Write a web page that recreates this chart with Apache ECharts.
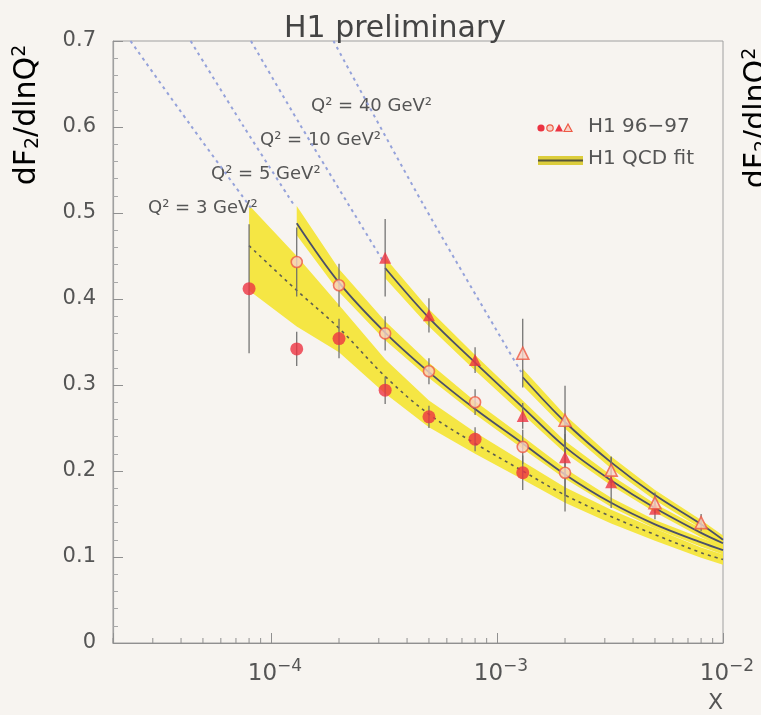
<!DOCTYPE html>
<html><head><meta charset="utf-8">
<script src="https://cdn.jsdelivr.net/npm/echarts@6/dist/echarts.min.js"></script>
<style>html,body{margin:0;padding:0;background:#f7f4f0;} #c{width:761px;height:715px;}</style>
</head><body><div id="c"></div>
<script>
// ---- data ----
// H1 96-97 measurements, dF2/dlnQ2 vs x
const q3X  = [8e-5,1.3e-4,2e-4,3.2e-4,5e-4,8e-4,1.3e-3];
const q3Y  = [0.412,0.342,0.354,0.294,0.263,0.237,0.198];
const q3E  = [0.075,0.02,0.023,0.016,0.013,0.014,0.02];
const q5X  = [1.3e-4,2e-4,3.2e-4,5e-4,8e-4,1.3e-3,2e-3];
const q5Y  = [0.443,0.416,0.360,0.316,0.280,0.228,0.198];
const q5E  = [0.04,0.025,0.02,0.015,0.015,0.02,0.045];
const q10X = [3.2e-4,5e-4,8e-4,1.3e-3,2e-3,3.2e-3,5e-3];
const q10Y = [0.448,0.381,0.329,0.264,0.216,0.187,0.156];
const q10E = [0.045,0.02,0.015,0.015,0.045,0.03,0.012];
const q40X = [1.3e-3,2e-3,3.2e-3,5e-3,8e-3];
const q40Y = [0.337,0.259,0.201,0.163,0.140];
const q40E = [0.04,0.04,0.015,0.012,0.01];

// H1 QCD fit: central value and error band
const f3X  = [8e-5,1.3e-4,2e-4,3.2e-4,5e-4,8e-4,1.3e-3,2e-3,3.2e-3,5e-3,8e-3,1e-2];
const f3Y  = [0.462,0.410,0.366,0.310,0.266,0.232,0.200,0.172,0.147,0.126,0.105,0.097];
const f3Up = [0.509,0.450,0.393,0.330,0.282,0.245,0.211,0.181,0.155,0.133,0.111,0.103];
const f3Lo = [0.410,0.368,0.338,0.290,0.251,0.220,0.190,0.163,0.139,0.119,0.099,0.091];
const f5X  = [1.3e-4,2e-4,3.2e-4,5e-4,8e-4,1.3e-3,2e-3,3.2e-3,5e-3,8e-3,1e-2];
const f5Y  = [0.488,0.419,0.361,0.315,0.272,0.232,0.196,0.163,0.138,0.117,0.108];
const f5Up = [0.508,0.435,0.374,0.326,0.281,0.240,0.203,0.169,0.143,0.122,0.113];
const f5Lo = [0.474,0.408,0.352,0.308,0.266,0.226,0.191,0.158,0.133,0.112,0.103];
const f10X = [3.2e-4,5e-4,8e-4,1.3e-3,2e-3,3.2e-3,5e-3,8e-3,1e-2];
const f10Y = [0.436,0.378,0.326,0.274,0.228,0.189,0.157,0.128,0.116];
const f10Up= [0.448,0.388,0.335,0.282,0.235,0.195,0.162,0.133,0.121];
const f10Lo= [0.424,0.368,0.317,0.266,0.221,0.183,0.152,0.123,0.111];
const f40X = [1.3e-3,2e-3,3.2e-3,5e-3,8e-3,1e-2];
const f40Y = [0.309,0.257,0.210,0.172,0.138,0.120];
const f40Up= [0.319,0.265,0.217,0.178,0.143,0.125];
const f40Lo= [0.299,0.249,0.203,0.166,0.133,0.115];

// blue dotted extrapolation lines (x, y)
const ext3  = [[2.39e-5,0.70],[4.41e-5,0.602],[8.15e-5,0.506]];
const ext5  = [[4.41e-5,0.70],[7.51e-5,0.602],[1.28e-4,0.507]];
const ext10 = [[8.15e-5,0.70],[1.35e-4,0.602],[3.15e-4,0.443]];
const ext40 = [[1.89e-4,0.70],[4.74e-4,0.509],[1.28e-3,0.315]];

const xMinorTicks = [2e-5,3e-5,4e-5,5e-5,6e-5,7e-5,8e-5,9e-5,2e-4,3e-4,4e-4,5e-4,6e-4,7e-4,8e-4,9e-4,2e-3,3e-3,4e-3,5e-3,6e-3,7e-3,8e-3,9e-3];
const q2Labels = ['Q² = 3 GeV²','Q² = 5 GeV²','Q² = 10 GeV²','Q² = 40 GeV²'];

// ---- helpers ----
const FONT = 'DejaVu Sans';
const RED = '#ec3342';
const pairs = (xs, ys) => xs.map((x,i)=>[x, ys[i]]);
function band(xs, up, lo){
  return {type:'custom', z:1, silent:true, clip:true, data:[[xs[0], up[0]]],
    renderItem:(p, api)=>{
      const pts=[];
      for(let i=0;i<xs.length;i++) pts.push(api.coord([xs[i],up[i]]));
      for(let i=xs.length-1;i>=0;i--) pts.push(api.coord([xs[i],lo[i]]));
      return {type:'polygon', shape:{points:pts}, style:{fill:'#f4e53a', opacity:0.95}};
    }};
}
function fitLine(xs, ys, dashed){
  return {type:'line', z:3, data:pairs(xs,ys), smooth:0.35, showSymbol:false, silent:true,
    lineStyle:{color: dashed?'#5e5e50':'#4a4f6a', width: dashed?1.6:1.8, type: dashed?[3,4]:'solid'}};
}
function extLine(d){
  return {type:'line', z:2, data:d, smooth:0.3, showSymbol:false, silent:true,
    lineStyle:{color:'#95a2da', width:2, type:[3,4]}};
}
function errs(xs, ys, es){
  return {type:'custom', z:4, silent:true, data: xs.map((x,i)=>[x, ys[i], es[i]]),
    encode:{x:0, y:1},
    renderItem:(p, api)=>{
      const x=api.value(0), y=api.value(1), e=api.value(2);
      const a=api.coord([x,y+e]), b=api.coord([x,y-e]);
      return {type:'line', shape:{x1:a[0],y1:a[1],x2:b[0],y2:b[1]}, style:{stroke:'#6a6a6a', lineWidth:1.2}};
    }};
}
function pts(xs, ys, symbol, size, filled){
  return {type:'scatter', z:5, data:pairs(xs,ys), symbol, symbolSize:size, silent:true,
    itemStyle: filled ? {color:RED} : {color:'#f8d2c6', borderColor:'#ee5a45', borderWidth:1.6}};
}

const supLabel = v => {
  const e = Math.log10(v);
  if (Math.abs(e-Math.round(e))>1e-6) return '';
  return '{a|10}{b|−' + Math.abs(Math.round(e)) + '}';
};
const yName = {text:'{a|dF}{s|2}{a|/dlnQ}{p|2}', align:'center', verticalAlign:'middle',
  rich:{a:{fontSize:30, fontFamily:FONT, color:'#555'}, s:{fontSize:19, fontFamily:FONT, color:'#555', padding:[12,0,0,0]}, p:{fontSize:19, fontFamily:FONT, color:'#555', padding:[0,0,14,0]}}};

const chart = echarts.init(document.getElementById('c'));
chart.setOption({
  backgroundColor:'#f7f4f0',
  animation:false,
  grid:{left:113, right:38, top:41, bottom:72, show:true, borderColor:'#a0a0a0', borderWidth:1, backgroundColor:'transparent'},
  xAxis:{type:'log', min:2e-5, max:1e-2, logBase:10,
    axisLine:{lineStyle:{color:'#909090', width:1.2}},
    axisTick:{inside:true, length:10, lineStyle:{color:'#909090'}},
    splitLine:{show:false},
    axisLabel:{formatter:supLabel, margin:15, color:'#555', fontFamily:FONT,
      rich:{a:{fontSize:23, color:'#555', fontFamily:FONT, padding:[0,0,0,8]}, b:{fontSize:17, color:'#555', fontFamily:FONT, padding:[0,0,16,0]}}}
  },
  yAxis:{type:'value', min:0, max:0.7, interval:0.1,
    axisLine:{show:true, lineStyle:{color:'#a0a0a0', width:1.2}},
    axisTick:{show:true, inside:true, length:10, lineStyle:{color:'#909090'}},
    minorTick:{show:true, splitNumber:5, length:5, lineStyle:{color:'#a8a8a8'}},
    splitLine:{show:false},
    axisLabel:{formatter:v=> v===0?'0':v.toFixed(1), margin:17, fontSize:21, color:'#555', fontFamily:FONT}
  },
  series:[
    band(f3X,f3Up,f3Lo), band(f5X,f5Up,f5Lo), band(f10X,f10Up,f10Lo), band(f40X,f40Up,f40Lo),
    extLine(ext3), extLine(ext5), extLine(ext10), extLine(ext40),
    fitLine(f3X,f3Y,true), fitLine(f5X,f5Y,false), fitLine(f10X,f10Y,false), fitLine(f40X,f40Y,false),
    {type:'custom', z:2, silent:true, data:xMinorTicks.map(v=>[v,0]), encode:{x:0,y:1},
      renderItem:(p, api)=>{ const c=api.coord([api.value(0),0]);
        return {type:'line', shape:{x1:c[0],y1:c[1],x2:c[0],y2:c[1]-5}, style:{stroke:'#909090', lineWidth:1}}; }},
    errs(q3X,q3Y,q3E), errs(q5X,q5Y,q5E), errs(q10X,q10Y,q10E), errs(q40X,q40Y,q40E),
    pts(q3X,q3Y,'circle',13,true), pts(q5X,q5Y,'circle',11,false),
    pts(q10X,q10Y,'triangle',12,true), pts(q40X,q40Y,'triangle',12,false)
  ],
  graphic:[
    {type:'text', x:395, y:14, style:{text:'H1 preliminary', font:'30px "DejaVu Sans"', fill:'#444', align:'center'}},
    {type:'text', x:27, y:115, rotation:Math.PI/2, style:yName},
    {type:'text', x:757, y:118, rotation:Math.PI/2, style:yName},
    {type:'text', x:708, y:692, style:{text:'X', font:'22px "DejaVu Sans"', fill:'#555'}},
    {type:'text', x:148, y:199, style:{text:q2Labels[0], font:'18px "DejaVu Sans"', fill:'#555'}},
    {type:'text', x:211, y:165, style:{text:q2Labels[1], font:'18px "DejaVu Sans"', fill:'#555'}},
    {type:'text', x:260, y:131, style:{text:q2Labels[2], font:'18px "DejaVu Sans"', fill:'#555'}},
    {type:'text', x:311, y:97, style:{text:q2Labels[3], font:'18px "DejaVu Sans"', fill:'#555'}},
    // legend
    {type:'circle', shape:{cx:541, cy:128, r:3.6}, style:{fill:RED}},
    {type:'circle', shape:{cx:550, cy:128, r:3.2}, style:{fill:'#f8d2c6', stroke:'#ee5a45', lineWidth:1.2}},
    {type:'polygon', shape:{points:[[559,124],[555,131.5],[563,131.5]]}, style:{fill:RED}},
    {type:'polygon', shape:{points:[[568,124],[564,131.5],[572,131.5]]}, style:{fill:'#f8d2c6', stroke:'#ee5a45', lineWidth:1.2}},
    {type:'text', x:588, y:117, style:{text:'H1 96−97', font:'20px "DejaVu Sans"', fill:'#555'}},
    {type:'rect', shape:{x:538, y:156, width:45, height:9}, style:{fill:'#dccd3c'}},
    {type:'line', shape:{x1:538, y1:160.5, x2:583, y2:160.5}, style:{stroke:'#55553a', lineWidth:2}},
    {type:'text', x:588, y:149, style:{text:'H1 QCD fit', font:'20px "DejaVu Sans"', fill:'#555'}}
  ]
});
</script></body></html>
